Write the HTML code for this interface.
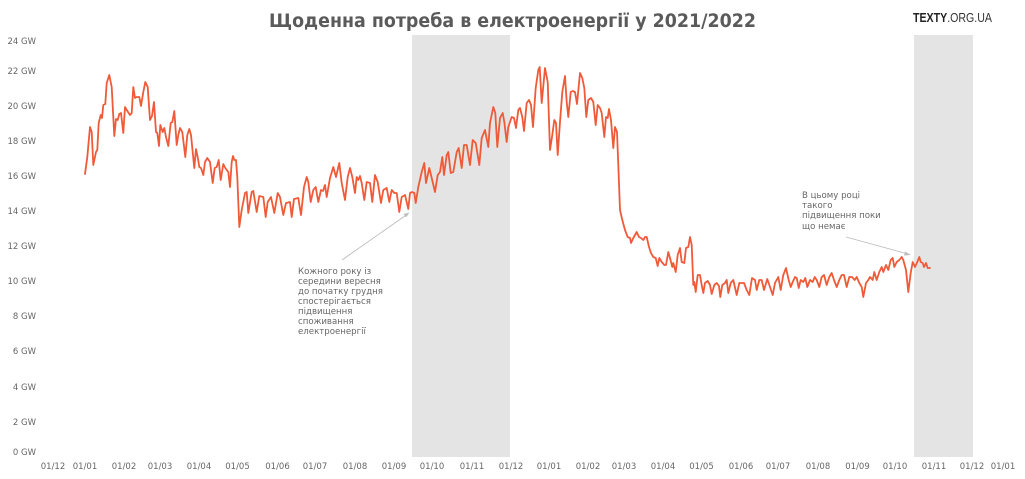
<!DOCTYPE html>
<html>
<head>
<meta charset="utf-8">
<style>
  html, body { margin: 0; padding: 0; background: #ffffff; }
  svg { display: block; }
  .tick { font-family: "DejaVu Sans", "Liberation Sans", sans-serif; font-size: 8.5px; fill: #666666; }
  .ann { font-family: "DejaVu Sans", "Liberation Sans", sans-serif; font-size: 8.6px; fill: #666666; }
</style>
</head>
<body>
<svg width="1025" height="479" viewBox="0 0 1025 479" xmlns="http://www.w3.org/2000/svg">
  <rect x="0" y="0" width="1025" height="479" fill="#ffffff"/>

  <!-- shaded periods -->
  <rect x="412" y="35" width="98" height="422" fill="#e4e4e4"/>
  <rect x="914" y="35" width="59" height="422" fill="#e4e4e4"/>

  <!-- title -->
  <text x="269" y="27" font-family="DejaVu Sans, Liberation Sans, sans-serif" font-weight="bold" font-size="18.5" fill="#5a5a5a" textLength="487" lengthAdjust="spacingAndGlyphs">Щоденна потреба в електроенергії у 2021/2022</text>

  <!-- logo -->
  <text x="913" y="22" font-family="Liberation Sans Narrow, Liberation Sans, sans-serif" font-size="13" fill="#222" textLength="79" lengthAdjust="spacingAndGlyphs"><tspan font-weight="bold">TEXTY</tspan><tspan fill="#333">.ORG.UA</tspan></text>

  <!-- y tick labels -->
  <g class="tick" text-anchor="end">
    <text x="36" y="44">24 GW</text>
    <text x="36" y="74">22 GW</text>
    <text x="36" y="109">20 GW</text>
    <text x="36" y="144">18 GW</text>
    <text x="36" y="179">16 GW</text>
    <text x="36" y="214">14 GW</text>
    <text x="36" y="249">12 GW</text>
    <text x="36" y="284">10 GW</text>
    <text x="36" y="319">8 GW</text>
    <text x="36" y="354">6 GW</text>
    <text x="36" y="390">4 GW</text>
    <text x="36" y="425">2 GW</text>
    <text x="36" y="455">0 GW</text>
  </g>

  <!-- x tick labels -->
  <g class="tick" text-anchor="middle">
    <text x="53" y="469">01/12</text>
    <text x="85" y="469">01/01</text>
    <text x="124" y="469">01/02</text>
    <text x="160" y="469">01/03</text>
    <text x="199" y="469">01/04</text>
    <text x="237.5" y="469">01/05</text>
    <text x="277.5" y="469">01/06</text>
    <text x="315" y="469">01/07</text>
    <text x="355" y="469">01/08</text>
    <text x="394" y="469">01/09</text>
    <text x="432" y="469">01/10</text>
    <text x="472" y="469">01/11</text>
    <text x="511" y="469">01/12</text>
    <text x="549" y="469">01/01</text>
    <text x="588" y="469">01/02</text>
    <text x="624" y="469">01/03</text>
    <text x="663" y="469">01/04</text>
    <text x="701.5" y="469">01/05</text>
    <text x="741" y="469">01/06</text>
    <text x="778" y="469">01/07</text>
    <text x="818" y="469">01/08</text>
    <text x="857.5" y="469">01/09</text>
    <text x="895" y="469">01/10</text>
    <text x="934" y="469">01/11</text>
    <text x="972" y="469">01/12</text>
    <text x="1003" y="469">01/01</text>
  </g>

  <!-- data line -->
  <polyline fill="none" stroke="#ef5a38" stroke-width="1.8" stroke-linejoin="round" stroke-linecap="round" points="
85,174 87.3,157 90,127 91.7,132 93.3,165 96,152 97.3,150 98.7,123 100.7,115 102,118 103.3,105 105.3,104 106.7,83 109.3,75 111.7,87 114.3,136 116,119 117.7,120 119.3,114 121,113 123.3,133 125,107 126.7,110 130,115 131.7,113 133.3,87 135,98 136.7,97 139.3,97 141,106 143.3,92 145.3,82 147.7,87 150,120 152,116 154,102 156,132 157.3,133 159,146 160.3,125 162.7,132 164.3,128 166,137 168.3,146 170.7,123 172.3,122 174.3,111 176.7,145 178.3,135 180,128 182.3,132 185.3,157 187.3,135 189.3,129 191,135 194.3,168 196,149 197.7,157 199.3,167 201,168 203.3,175 205,162 207.3,158 210,162 212.7,183 214.7,168 216.7,167 218.7,160 220.7,180 223.3,164 225.3,168 226.7,170 228.3,172 230,187 231.7,162 233,156 234.3,160 236,160 237.3,177
239.3,227 241.7,210 245,193 246.7,192 248.3,213 251.7,192 253.3,191 256.7,212 259.3,196 263.3,197 265.7,217 267.7,202 271,197 274.3,213 277.7,193 280,197 283.3,215 286,203 290,202 291.7,217 294,199 298.3,198 301,215 304,187 306.7,177 308.3,182 310.7,202 313.3,190 315.7,187 318.3,202 321,190 323,191 325,185 326.7,197 330,178 333.3,167 336,177 339.3,163 341.7,183 345,200 347.7,177 350,168 352.3,177 355,193 356.7,177 358.3,180 360,176 361.7,183 364.3,200 366.7,182 370,183 372.3,202 375,175 377.7,182 381,203 383.3,190 386.7,188 389.3,202 391.7,190 394.3,193 396.7,193 399.3,212 401.7,197 405,195 408.3,209 410,193 411.7,192 414.3,193 415.7,203 418.3,187 421.7,172 424.3,163
426,183 429.3,168 431.7,178 435,192 437.7,175 440,172 442.3,157 444,175 446.7,155 448.3,152 450.7,173 453.3,172 456.7,152 458.7,148 461.7,168 464,145 466.7,145 470,165 472.7,140 475.7,143 479.3,165 481.7,138 485,130 488.3,147 490,123 493.3,107 495.3,113 497.3,147 500,118 502.7,113 504.3,122 506.7,142 508.3,127 511.7,117 514,118 516,128 518.3,110 520,108
522.3,117 524,131 526.7,103 529,100 531,105 533,127 535.7,88 538.3,70 539.7,67 541.7,103 545,68 547.7,82 550,150 552.3,135 554.3,120 556,123 557.7,155 560,122 562.3,92 565,76 566.7,102 568.3,117 570.7,92 572.7,91 575,92 577,104 580,73 582.3,78 584.3,88 586.3,117 588.3,100 591,98 593.3,102 595.7,125 597.7,105 600,108 601.7,113 604.3,137 606,117 607.7,118 609,109 611,120 613.3,148 615,127 617,132 618.3,165 620,210 622.3,220 625,230 627.7,237 630,238 631,243 633.3,238 636.7,232 639,237 641,238 643.3,240 645,237 646.7,237 649,247 651,253 653.3,257 655.7,258 657.7,266 659.3,258 661.7,262 664.3,265 666,265 668.3,252 670,258 672.3,267 673.3,263 675.7,272 677.7,255 680,248 681.7,262 684.3,263 686,248 688.3,247 690,237 691.7,245 693.3,285 694.3,282 695.7,292 697.7,275 700,275 701.7,285 703.3,293 705,283 707.7,281 710,285 711.7,294 714.3,285 716.7,283 719,286 720.3,297 722.3,285 725,283
726.7,280 728.3,293 730.7,283 733.3,280 736.7,295 739.3,283 741.7,283 744,283 746.7,290 749.3,295 752,278 755,280 756.7,290 759.3,280 761.7,280 764,290 767.3,279 770,287 772.7,295 775,283 778.3,277 780.7,290 783.3,275 786,268 788.7,280 790.7,287 792.7,282 795,277 796.7,278 798.7,288 800.7,280 803.3,282 805.3,278 807.3,287 810,280 812.7,282 814.7,277 816.7,280 819.3,287 821.7,277 824,275 826.7,285 829.3,277 831.7,273 834,280 836.7,287 839.3,280 841.7,275 844,275 846.7,287 849.3,277 852,277 854.7,280 856.7,277 859.3,283 861.7,287 863.3,297 866,283 868.3,280 870,277 872.7,280 874.3,272 876.7,280 879.3,272 881.7,267 883.3,272 886,265 888.3,270 890.7,260 892.7,258 894.3,267 896.7,262 899.3,260 901.7,257 903.3,260 906,270 908.3,292 910.7,273 912.7,262 915,267 917.3,262 919.3,257 920.7,262 922.7,263 924,267 926,263 927.7,268 930,268"/>

  <!-- annotation 1 -->
  <line x1="342" y1="260" x2="407" y2="214.5" stroke="#bdbdbd" stroke-width="0.9"/>
  <polygon points="409.5,212.5 403.5,214 406,217.5" fill="#bdbdbd"/>
  <g class="ann">
    <text x="298" y="274">Кожного року із</text>
    <text x="298" y="284">середини вересня</text>
    <text x="298" y="294">до початку грудня</text>
    <text x="298" y="304">спостерігається</text>
    <text x="298" y="314">підвищення</text>
    <text x="298" y="324">споживання</text>
    <text x="298" y="334">електроенергії</text>
  </g>

  <!-- annotation 2 -->
  <line x1="846" y1="237" x2="908" y2="254" stroke="#bdbdbd" stroke-width="0.9"/>
  <polygon points="911,255 905,251.5 904,255.5" fill="#bdbdbd"/>
  <g class="ann">
    <text x="802" y="198">В цьому році</text>
    <text x="802" y="208">такого</text>
    <text x="802" y="218">підвищення поки</text>
    <text x="802" y="229">що немає</text>
  </g>
</svg>
</body>
</html>
